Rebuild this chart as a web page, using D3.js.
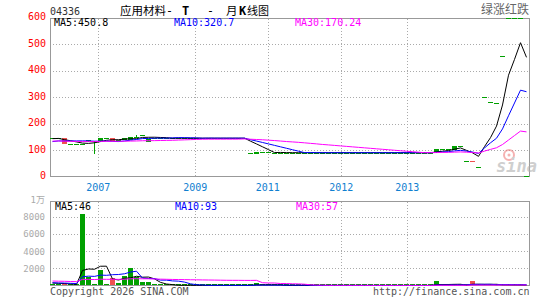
<!DOCTYPE html>
<html><head><meta charset="utf-8">
<script src="https://cdn.jsdelivr.net/npm/d3@7/dist/d3.min.js"></script>
<style>
body{margin:0;background:#fff;}
svg{display:block;}
text{font-family:"DejaVu Sans Mono","Noto Sans CJK SC",monospace;}
</style></head><body><svg id="c" width="545" height="300"></svg>
<script>
// ---- data (monthly candles, one slot per traded month) ----
const priceOpen = [144,144,145,122,122,122,129,129,129,146,
  145,138,138,138,148,157,131,146,146,145,
  145,145,145,145,145,145,145,145,145,145,
  145,145,145,88,86,91,91,90,90,90,
  90,90,90,90,90,90,90,90,90,90,
  90,90,90,90,90,90,90,90,90,90,
  90,90,90,90,90,103,103,100,114,59,
  58,36,300,283,277,457,599,599,599,0];
const priceHigh = [144,144,145,122,122,122,138,134,145,146,
  145,138,145,151,158,157,141,146,146,145,
  145,145,145,145,145,145,145,145,145,145,
  145,145,145,88,93,91,91,90,90,90,
  90,90,90,90,90,90,90,90,90,90,
  90,90,90,90,90,90,90,90,90,90,
  90,90,90,90,105,103,103,115,114,59,
  58,36,300,283,277,457,599,599,599,0];
const priceLow = [144,144,122,122,122,122,129,85,129,146,
  133,138,138,138,148,157,131,146,146,145,
  145,145,145,145,145,145,145,145,145,145,
  145,145,145,88,86,91,91,90,90,90,
  90,90,90,90,90,90,90,90,90,90,
  90,90,90,90,90,90,90,90,90,90,
  90,90,90,90,90,103,103,100,114,59,
  57,36,300,283,277,457,599,599,599,0];
const priceClose = [144,144,122,122,122,122,138,134,145,146,
  133,138,145,151,148,157,141,146,146,145,
  145,145,145,145,145,145,145,145,145,145,
  145,145,145,88,93,91,91,90,90,90,
  90,90,90,90,90,90,90,90,90,90,
  90,90,90,90,90,90,90,90,90,90,
  90,90,90,90,105,103,103,115,114,59,
  57,36,300,283,277,457,599,599,599,0];
const volume = [150,100,250,50,50,8300,950,100,1800,80,
  880,330,1100,2050,1000,350,420,30,20,40,
  10,20,30,10,20,10,20,30,10,20,
  10,10,20,40,290,10,10,10,10,10,
  10,10,10,10,10,10,10,10,10,10,
  1,1,1,1,1,1,1,1,1,1,
  1,1,1,1,560,10,10,100,40,40,
  520,45,45,45,45,200,10,10,10,0];
// estimated months before the visible window (only feed the moving averages)
const prevClose = [130,138,142,135,128,132,140,137,133,129,136,141,138,134,131,136,139,133,130,134,
  118,124,120,122,120,140,145,143,144];
const prevVolume = [700,540,820,610,480,900,560,650,430,720,590,680,510,760,620,450,690,580,530,560,
  380,320,360,340,350,300,340,310,350];
const yearLabels = ["2007","2009","2011","2012","2013"];
const yearSlots = [8.05,24.2,36.3,48.55,59.55];
const priceTicks = [0,100,200,300,400,500,600];
const volumeTicks = [2000,4000,6000,8000,10000];
const volumeTickLabels = ["2000","4000","6000","8000","1万"];
const priceMALabels = ["MA5:450.8","MA10:320.7","MA30:170.24"];
const volumeMALabels = ["MA5:46","MA10:93","MA30:57"];
const maPeriods = [5,10,30];
const maColors = ["#000000","#0000ff","#ff00ff"];

// ---- drawing ----
const svg = d3.select("#c");
const nSlots = priceClose.length;
const x = d3.scaleLinear().domain([0, nSlots]).range([50, 530]);
const yP = d3.scaleLinear().domain([0, 600]).range([176.5, 17.9]);
const yV = d3.scaleLinear().domain([0, 10000]).range([285.5, 199.5]);
const UP = "#00a000", DOWN = "#f05050";
const px = v => Math.round(v) + 0.5;

function movingAvg(hist, vals, n) {
  const all = hist.concat(vals);
  return vals.map((_, i) => { const e = hist.length + i; return d3.mean(all.slice(e - n + 1, e + 1)); });
}

const boxes = [{top:18.5, bottom:176.5}, {top:201.5, bottom:285.5}];
const grid = svg.append("g").attr("shape-rendering","crispEdges");
priceTicks.filter(v => v > 0 && v < 600).forEach(v => {
  grid.append("line").attr("x1",50).attr("x2",529.5).attr("y1",px(yP(v))).attr("y2",px(yP(v)))
    .attr("stroke","#aaa").attr("stroke-dasharray","1,2");
});
volumeTicks.filter(v => v < 10000).forEach(v => {
  grid.append("line").attr("x1",50).attr("x2",529.5).attr("y1",px(yV(v))).attr("y2",px(yV(v)))
    .attr("stroke","#aaa").attr("stroke-dasharray","1,2");
});
yearSlots.forEach(s => {
  boxes.forEach(b => {
    grid.append("line").attr("x1",px(x(s))).attr("x2",px(x(s))).attr("y1",b.top).attr("y2",b.bottom)
      .attr("stroke","#aaa").attr("stroke-dasharray","1,2");
  });
});

// frames (under the marks, as in the reference)
const fg = svg.append("g").attr("shape-rendering","crispEdges").attr("fill","none").attr("stroke","#999");
boxes.forEach(b => fg.append("rect").attr("x",50.5).attr("y",b.top).attr("width",479).attr("height",b.bottom - b.top));

// watermark
const wm = svg.append("g").attr("opacity",0.6);
wm.append("circle").attr("cx",509).attr("cy",155).attr("r",5).attr("fill","none").attr("stroke","#f08080").attr("stroke-width",2);
wm.append("circle").attr("cx",509).attr("cy",155).attr("r",1.5).attr("fill","#f08080");
wm.append("text").attr("x",496).attr("y",172).attr("font-family","DejaVu Sans").attr("font-style","italic")
  .attr("font-weight","bold").attr("font-size",17).attr("fill","#b0b0b0").text("sina");

// candles
const cg = svg.append("g").attr("shape-rendering","crispEdges");
priceClose.forEach((c, i) => {
  const o = priceOpen[i], h = priceHigh[i], l = priceLow[i];
  const col = c < o ? DOWN : UP;
  const top = Math.round(yP(Math.max(o, c))), bot = Math.round(yP(Math.min(o, c)));
  const xc = x(i) + 2.5;
  if (h > Math.max(o, c) || l < Math.min(o, c)) {
    cg.append("line").attr("x1",xc).attr("x2",xc).attr("y1",Math.round(yP(h))).attr("y2",Math.round(yP(l)))
      .attr("stroke",col);
  }
  cg.append("rect").attr("x",x(i)).attr("y",Math.min(top, 176)).attr("width",5).attr("height",Math.max(1, bot - top)).attr("fill",col);
});

// volume bars
volume.forEach((v, i) => {
  if (v <= 0) return;
  const col = priceClose[i] < priceOpen[i] ? DOWN : UP;
  const top = Math.round(yV(v));
  cg.append("rect").attr("x",x(i)).attr("y",Math.min(top, 284)).attr("width",5)
    .attr("height",Math.max(1, 285 - top)).attr("fill",col);
});

// moving averages
const lg = svg.append("g").attr("fill","none").attr("stroke-width",1);
maPeriods.forEach((n, k) => {
  const pm = movingAvg(prevClose, priceClose, n);
  const vm = movingAvg(prevVolume, volume, n);
  lg.append("path").attr("d", d3.line().x((d,i) => x(i) + 2.5).y(d => yP(d))(pm)).attr("stroke", maColors[k]);
  lg.append("path").attr("d", d3.line().x((d,i) => x(i) + 2.5).y(d => yV(d))(vm)).attr("stroke", maColors[k]);
});

// axis labels
const tg = svg.append("g");
priceTicks.forEach(v => {
  tg.append("text").attr("x",46).attr("y",yP(v) + 2.5).attr("text-anchor","end").attr("font-size",10)
    .attr("fill","#ff0000").text(v);
});
volumeTicks.forEach((v, k) => {
  tg.append("text").attr("x",45).attr("y",yV(v) + 3.5).attr("text-anchor","end").attr("font-size",9)
    .attr("fill","#aaa").text(volumeTickLabels[k]);
});
yearLabels.forEach((t, k) => {
  tg.append("text").attr("x",x(yearSlots[k])).attr("y",191).attr("text-anchor","middle").attr("font-size",10)
    .attr("fill","#1080d0").text(t);
});
const maX = [54, 174, 295];
priceMALabels.forEach((t, k) => tg.append("text").attr("x",maX[k]).attr("y",26).attr("font-size",10).attr("fill",maColors[k]).text(t));
volumeMALabels.forEach((t, k) => tg.append("text").attr("x",maX[k] + 1).attr("y",209.5).attr("font-size",10).attr("fill",maColors[k]).text(t));

// headers & footers
tg.append("text").attr("x",50).attr("y",15).attr("font-size",10).attr("fill","#333").text("04336");
const cjk = "Noto Sans CJK SC";
tg.append("text").attr("x",120).attr("y",14.5).attr("font-family",cjk).attr("font-size",11.5).attr("fill","#000").text("应用材料-");
tg.append("text").attr("x",182).attr("y",14.5).attr("font-family","Liberation Serif").attr("font-weight","bold").attr("font-size",12).attr("fill","#000").text("T");
tg.append("text").attr("x",207).attr("y",14.5).attr("font-family",cjk).attr("font-size",11.5).attr("fill","#000").text("-");
tg.append("text").attr("x",226).attr("y",14.5).attr("font-family",cjk).attr("font-size",11.5).attr("fill","#000").text("月");
tg.append("text").attr("x",239).attr("y",14.5).attr("font-family","Liberation Serif").attr("font-weight","bold").attr("font-size",12).attr("fill","#000").text("K");
tg.append("text").attr("x",247).attr("y",14.5).attr("font-family",cjk).attr("font-size",11).attr("fill","#000").text("线图");
tg.append("text").attr("x",529).attr("y",14).attr("text-anchor","end").attr("font-family",cjk).attr("font-size",12).attr("fill","#666").text("绿涨红跌");
tg.append("text").attr("x",50).attr("y",295).attr("font-size",10).attr("fill","#555").text("Copyright 2026 SINA.COM");
tg.append("text").attr("x",529.5).attr("y",295).attr("text-anchor","end").attr("font-size",10).attr("fill","#555").text("http://finance.sina.com.cn");
</script></body></html>
